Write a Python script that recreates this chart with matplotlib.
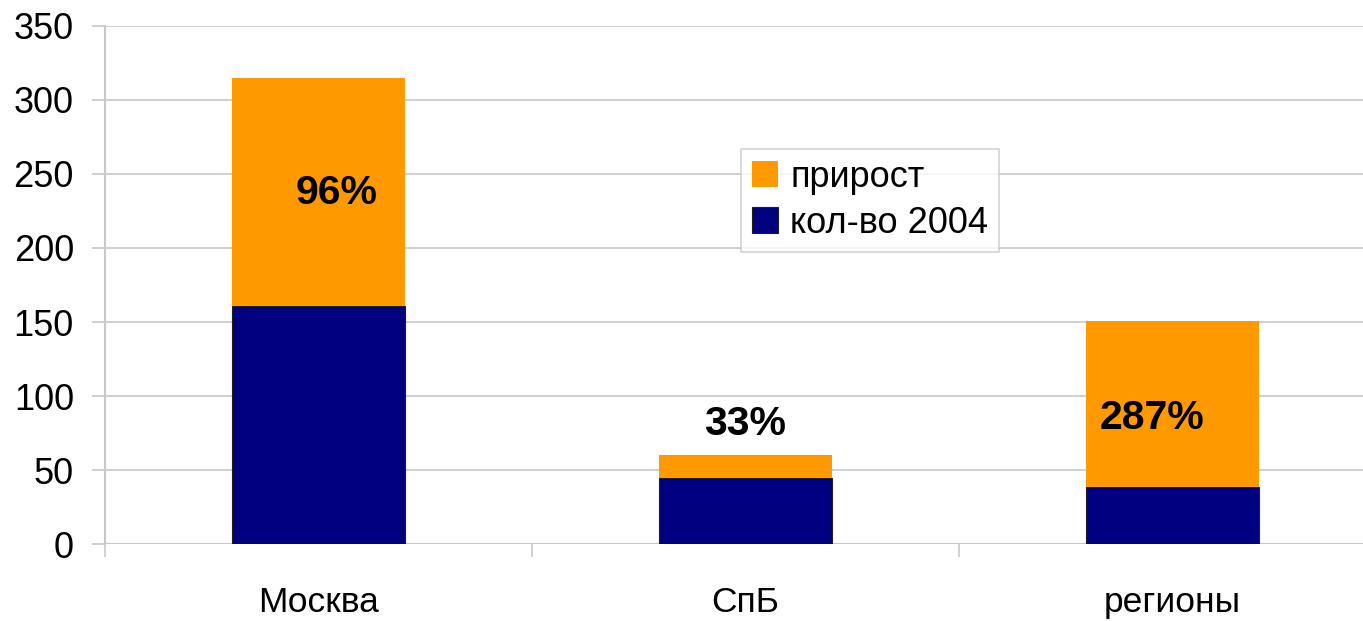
import matplotlib
matplotlib.use("Agg")
import matplotlib.pyplot as plt
import numpy as np
from matplotlib.patches import Patch

categories = ["Москва", "СпБ", "регионы"]
base_2004 = [161, 45, 39]
growth = [154, 15, 112]
growth_labels = ["96%", "33%", "287%"]
label_y = [237, 81, 85]
label_dx = [0.042, 0.0, -0.047]
yticks = [0, 50, 100, 150, 200, 250, 300, 350]

ORANGE = "#FF9900"
NAVY = "#000080"
GRID = "#C8C8C8"
FONT = ["Liberation Sans", "DejaVu Sans"]

plt.rcParams["font.family"] = FONT

W, H = 1363, 621
fig = plt.figure(figsize=(W / 100, H / 100), dpi=100)
ax = fig.add_axes([105 / W, (H - 544.3) / H, 1281 / W, 518.6 / H])

x = np.arange(len(categories))
bw = 0.403
ax.bar(x, base_2004, width=bw, color=NAVY, edgecolor="#202020", linewidth=0.8, zorder=3)
ax.bar(x, growth, width=bw, bottom=base_2004, color=ORANGE, linewidth=0, zorder=3)

for i, t in enumerate(growth_labels):
    ax.text(x[i] + label_dx[i], label_y[i], t, ha="center", va="center",
            fontsize=29.5, fontweight="bold", color="black", zorder=5)

ax.set_xlim(-0.5, 2.5)
ax.set_ylim(0, 350)
ax.set_yticks(yticks)
ax.set_yticklabels([str(v) for v in yticks])
ax.set_xticks(x)
ax.set_xticklabels(categories)
ax.set_xticks([-0.5, 0.5, 1.5, 2.5], minor=True)

ax.grid(axis="y", color=GRID, linewidth=1.2, zorder=0)
ax.set_axisbelow(True)
for s in ["top", "right", "bottom"]:
    ax.spines[s].set_visible(False)
ax.spines["left"].set_color(GRID)
ax.spines["left"].set_linewidth(1.5)
ax.axhline(0, color=GRID, linewidth=1.5, zorder=1)

ax.tick_params(axis="y", length=9.4, width=1.2, color=GRID, pad=13, labelsize=26)
ax.tick_params(axis="x", which="major", length=0, pad=30, labelsize=25.5)
ax.tick_params(axis="x", which="minor", length=9, width=1.2, color=GRID)

handles = [Patch(facecolor=ORANGE, edgecolor="none"),
           Patch(facecolor=NAVY, edgecolor="#202020", linewidth=0.8)]
leg = ax.legend(handles, ["прирост", "кол-во 2004"], loc="upper left",
                bbox_to_anchor=(741 / W, 1 - 149 / H), bbox_transform=fig.transFigure,
                borderaxespad=0, fontsize=26, frameon=True, fancybox=False,
                edgecolor=GRID, handlelength=0.72, handleheight=0.72,
                handletextpad=0.35, labelspacing=0.3, borderpad=0.3)
leg.get_frame().set_linewidth(1.2)

fig.savefig("out.png", dpi=100)
